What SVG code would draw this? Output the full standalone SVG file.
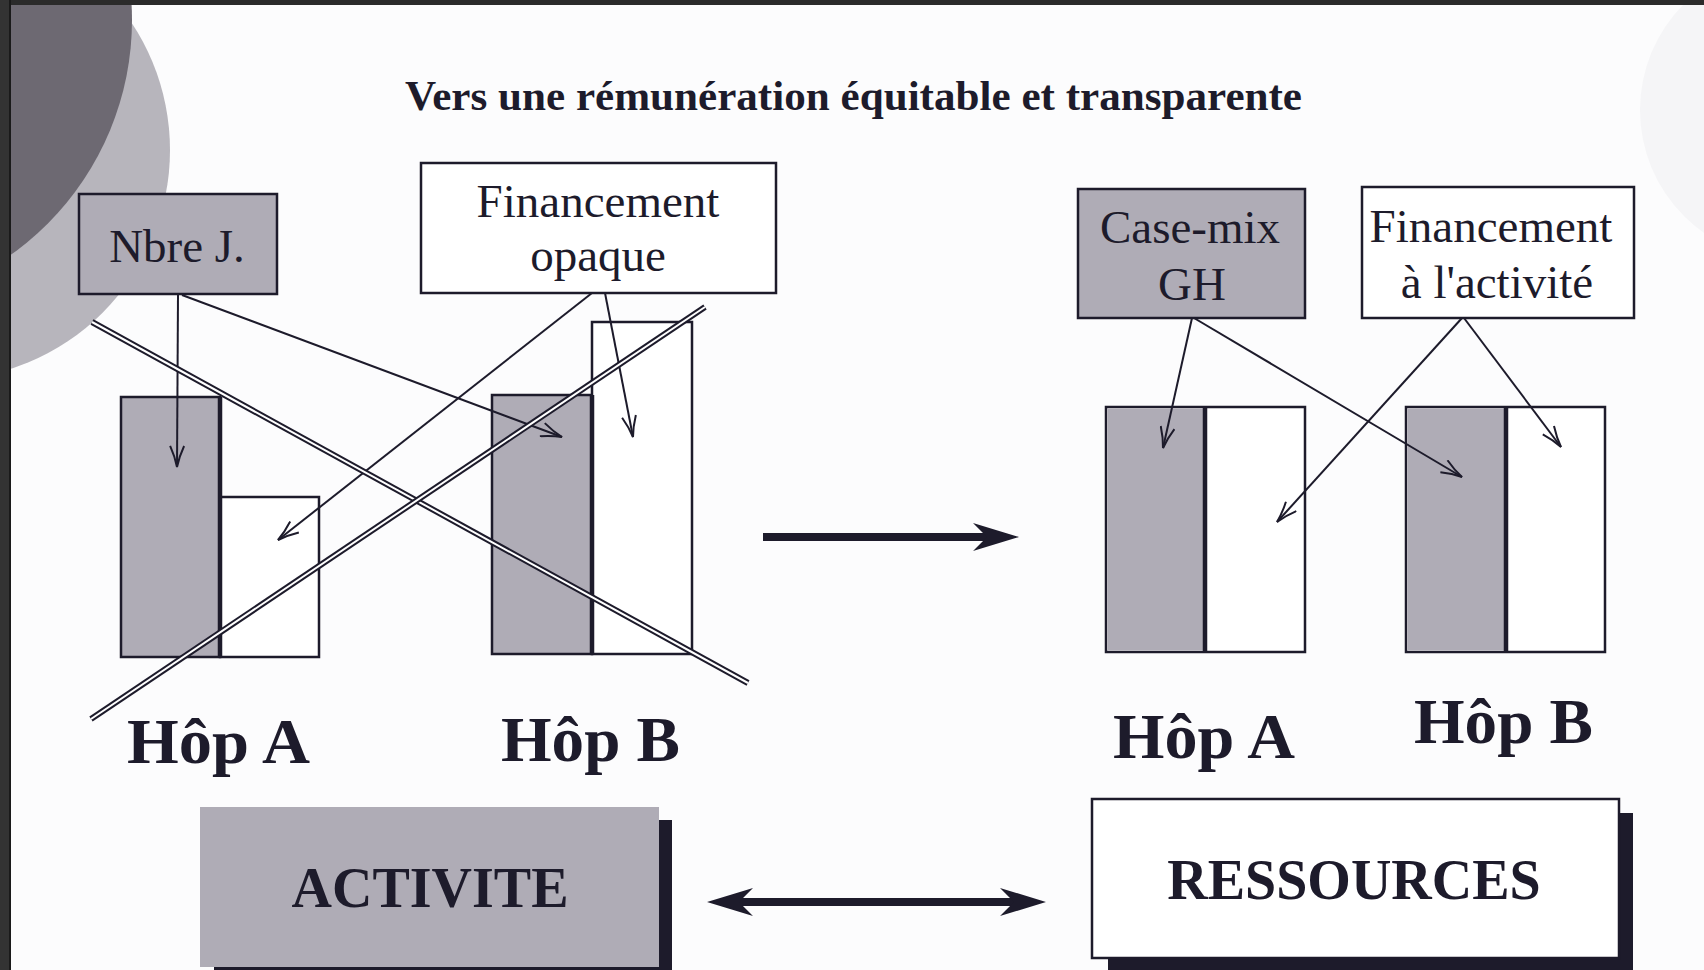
<svg xmlns="http://www.w3.org/2000/svg" width="1704" height="970" viewBox="0 0 1704 970">
<style>
.box{stroke:#1d1b2b;stroke-width:2.5}
.gray{fill:#afacb6}
.white{fill:#ffffff}
.div{stroke:#1d1b2b;stroke-width:4.5}
.lbl{font-family:"Liberation Serif","Times New Roman",serif;font-size:47px;fill:#1d1b2b;text-anchor:middle}
.hop{font-family:"Liberation Serif","Times New Roman",serif;font-weight:bold;font-size:63px;fill:#1d1b2b}
.big{font-family:"Liberation Serif","Times New Roman",serif;font-weight:bold;font-size:56px;fill:#1d1b2b;text-anchor:middle}
.thin{stroke:#1d1b2b;stroke-width:2;fill:none;marker-end:url(#open)}
.thick{stroke:#1d1b2b;stroke-width:8;fill:none}
.xo{stroke:#1d1b2b;stroke-width:6;stroke-linecap:butt}
.xi{stroke:#ffffff;stroke-width:2;stroke-linecap:butt}
.shadow{fill:#1d1b2b}
</style>
<defs>
<marker id="open" markerUnits="userSpaceOnUse" viewBox="0 0 24 16" refX="22" refY="8" markerWidth="24" markerHeight="16" orient="auto">
<path d="M1,1 Q12,6 22,8 Q12,10 1,15" fill="none" stroke="#1d1b2b" stroke-width="2"/>
</marker>
<marker id="head" markerUnits="userSpaceOnUse" viewBox="0 0 48 30" refX="14" refY="15" markerWidth="48" markerHeight="30" orient="auto-start-reverse">
<path d="M46,15 L0,1 L14,15 L0,29 Z" fill="#1d1b2b"/>
</marker>
</defs>

<g id="background">
<rect x="0" y="0" width="1704" height="970" fill="#fcfcfd"/>
<circle cx="1790" cy="110" r="150" fill="#f5f5f7"/>
<circle cx="-60" cy="150" r="230" fill="#b7b5bc"/>
<circle cx="-156" cy="20" r="288" fill="#6d6972"/>
<rect x="0" y="0" width="1704" height="5" fill="#2b2b2b"/>
<rect x="0" y="0" width="9" height="970" fill="#333333"/>
<rect x="9" y="0" width="2" height="970" fill="#1a1a1a"/>
</g>

<g id="title">
<text x="405" y="110" font-family="'Liberation Serif','Times New Roman',serif" font-weight="bold" font-size="43" fill="#1d1b2b" textLength="897" lengthAdjust="spacingAndGlyphs">Vers une rémunération équitable et transparente</text>
</g>

<g id="hop-a-left">
<rect class="box gray" x="121" y="397" width="99" height="260"/>
<rect class="box white" x="220" y="497" width="99" height="160"/>
<line class="div" x1="220" y1="397" x2="220" y2="657"/>
<text class="hop" x="127" y="763" textLength="183" lengthAdjust="spacingAndGlyphs">Hôp A</text>
</g>

<g id="hop-b-left">
<rect class="box gray" x="492" y="395" width="100" height="259"/>
<rect class="box white" x="592" y="322" width="100" height="332"/>
<line class="div" x1="592" y1="395" x2="592" y2="654"/>
<text class="hop" x="501" y="761" textLength="179" lengthAdjust="spacingAndGlyphs">Hôp B</text>
</g>

<g id="nbre-j">
<rect class="box gray" x="79" y="194" width="198" height="100"/>
<text class="lbl" x="177" y="262">Nbre J.</text>
</g>

<g id="financement-opaque">
<rect class="box white" x="421" y="163" width="355" height="130"/>
<text class="lbl" x="598" y="217">Financement</text>
<text class="lbl" x="598" y="271">opaque</text>
</g>

<g id="case-mix">
<rect class="box gray" x="1078" y="189" width="227" height="129"/>
<text class="lbl" x="1190" y="243">Case-mix</text>
<text class="lbl" x="1192" y="300">GH</text>
</g>

<g id="financement-activite">
<rect class="box white" x="1362" y="187" width="272" height="131"/>
<text class="lbl" x="1491" y="242">Financement</text>
<text class="lbl" x="1497" y="298">à l'activité</text>
</g>

<g id="hop-a-right">
<rect class="box white" x="1106" y="407" width="199" height="245"/>
<rect class="gray" x="1107.5" y="408.5" width="97.5" height="242"/>
<line class="div" x1="1205" y1="407" x2="1205" y2="652"/>
<text class="hop" x="1113" y="758" textLength="182" lengthAdjust="spacingAndGlyphs">Hôp A</text>
</g>

<g id="hop-b-right">
<rect class="box white" x="1406" y="407" width="199" height="245"/>
<rect class="gray" x="1407.5" y="408.5" width="98.5" height="242"/>
<line class="div" x1="1506" y1="407" x2="1506" y2="652"/>
<text class="hop" x="1414" y="743" textLength="179" lengthAdjust="spacingAndGlyphs">Hôp B</text>
</g>

<g id="activite">
<rect class="shadow" x="659" y="820" width="13" height="150"/>
<rect class="shadow" x="214" y="966" width="458" height="4"/>
<rect class="gray" x="200" y="807" width="459" height="160"/>
<text class="big" x="430" y="907">ACTIVITE</text>
</g>

<g id="ressources">
<rect class="shadow" x="1619" y="813" width="14" height="157"/>
<rect class="shadow" x="1108" y="958" width="525" height="12"/>
<rect class="box white" x="1092" y="799" width="527" height="159"/>
<text class="big" x="1354" y="899">RESSOURCES</text>
</g>

<g id="connectors">
<line class="thin" x1="178" y1="295" x2="177" y2="467"/>
<line class="thin" x1="182" y1="295" x2="562" y2="437"/>
<line class="thin" x1="592" y1="293" x2="278" y2="540"/>
<line class="thin" x1="605" y1="293" x2="633" y2="437"/>
<line class="thin" x1="1192" y1="318" x2="1163" y2="448"/>
<line class="thin" x1="1194" y1="318" x2="1462" y2="477"/>
<line class="thin" x1="1462" y1="318" x2="1277" y2="522"/>
<line class="thin" x1="1464" y1="318" x2="1561" y2="447"/>
<line class="thick" x1="763" y1="537" x2="987" y2="537" marker-end="url(#head)"/>
<line class="thick" x1="739" y1="902" x2="1014" y2="902" marker-start="url(#head)" marker-end="url(#head)"/>
<g id="cross">
<line class="xo" x1="92" y1="322" x2="748" y2="683"/>
<line class="xi" x1="92" y1="322" x2="748" y2="683"/>
<line class="xo" x1="705" y1="307" x2="91" y2="719"/>
<line class="xi" x1="705" y1="307" x2="91" y2="719"/>
</g>
</g>
</svg>
